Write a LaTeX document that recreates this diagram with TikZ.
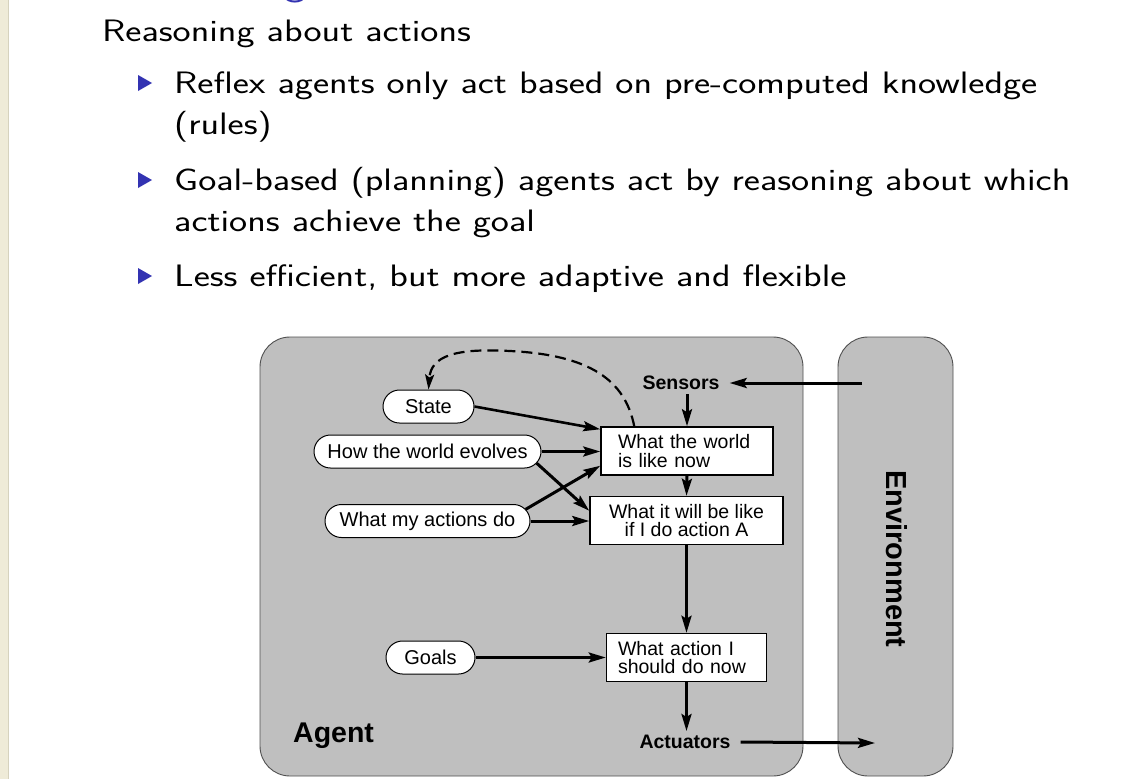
\documentclass[tikz,border=0pt]{standalone}
\usepackage{fontspec}
\newfontfamily\hv{Liberation Sans}
\usetikzlibrary{arrows.meta,calc}
\definecolor{agentgray}{RGB}{191,191,191}
\definecolor{beamerblue}{RGB}{51,51,178}
\definecolor{stripe}{RGB}{239,235,216}
\definecolor{stripeline}{RGB}{214,210,190}
\definecolor{boxedge}{RGB}{80,80,80}
\newcommand{\wide}[1]{\scalebox{1.24}[1]{#1}}
\begin{document}
\begin{tikzpicture}[x=1pt,y=-1pt,
  slidetext/.style={anchor=base west,inner sep=0pt,font=\sffamily\fontsize{31}{36}\selectfont},
  bullettri/.style={fill=beamerblue},
  oval/.style={draw=black,fill=white,line width=1pt,rounded corners=16.5pt,minimum height=33pt,inner sep=0pt,font=\hv\fontsize{20}{22}\selectfont},
  box/.style={draw=black,fill=white,line width=1.5pt,minimum height=48pt,inner ysep=3pt,font=\hv\fontsize{19.5}{18.5}\selectfont},
  lbl/.style={font=\hv\bfseries\fontsize{19.5}{22}\selectfont,inner xsep=10pt,inner ysep=4pt},
  arr/.style={line width=3pt,-{Stealth[length=17pt,width=10pt,inset=3pt]}},
  dasharr/.style={line width=2.2pt,dash pattern=on 11pt off 6pt,-{Stealth[length=15pt,width=9pt,inset=3pt]}}
]
\useasboundingbox (0,0) rectangle (1121,779);
\fill[white] (0,0) rectangle (1121,779);
% left stripe
\fill[stripe] (0,0) rectangle (8,779);
\draw[stripeline,line width=1.2pt] (8.5,0) -- (8.5,779);
% clipped title remnant
\begin{scope}
\clip (0,0) rectangle (1121,779);
\node[anchor=base west,inner sep=0pt,text=beamerblue,font=\sffamily\fontsize{37}{40}\selectfont] (ttl) at (284,-5) {\wide{g}};
\end{scope}
% slide text
\node[slidetext] (h) at (102,41) {\wide{Reasoning about actions}};
\fill[bullettri] (138,75) -- (152,83) -- (138,91) -- cycle;
\node[slidetext] (b1a) at (174,93) {\wide{Reflex agents only act based on pre-computed knowledge}};
\node[slidetext] (b1b) at (174,134) {\wide{(rules)}};
\fill[bullettri] (138,172) -- (152,180) -- (138,188) -- cycle;
\node[slidetext] (b2a) at (174,190) {\wide{Goal-based (planning) agents act by reasoning about which}};
\node[slidetext] (b2b) at (174,231) {\wide{actions achieve the goal}};
\fill[bullettri] (138,268) -- (152,276) -- (138,284) -- cycle;
\node[slidetext] (b3a) at (174,286) {\wide{Less efficient, but more adaptive and flexible}};
% diagram containers
\draw[fill=agentgray,draw=boxedge,line width=0.9pt,rounded corners=30pt] (260,337) rectangle (803,776);
\draw[fill=agentgray,draw=boxedge,line width=0.9pt,rounded corners=30pt] (838,337) rectangle (953,776);
\node[rotate=-90,font=\hv\bfseries\fontsize{29}{30}\selectfont,inner sep=0pt] (env) at (897,559) {Environment};
\node[anchor=base west,inner sep=0pt,font=\hv\bfseries\fontsize{28.5}{30}\selectfont] (agent) at (293,742.5) {Agent};
% nodes
\node[oval,minimum width=91pt] (state) at (428.5,406.5) {State};
\node[oval,minimum width=227pt] (hw) at (427.5,451.5) {How the world evolves};
\node[oval,minimum width=205pt] (mad) at (427.5,521) {What my actions do};
\node[oval,minimum width=89pt] (goals) at (430.5,657.5) {Goals};
\node[box,text width=138pt,inner xsep=17pt,align=left] (w1) at (687,451) {What the world\\is like now};
\node[box,minimum width=193pt,align=center] (w2) at (686.5,520.5) {What it will be like\\if I do action A};
\node[box,text width=137pt,inner xsep=11.5pt,align=left] (w3) at (686.5,657.5) {What action I\\should do now};
\node[lbl] (sens) at (681,383) {Sensors};
\node[lbl] (act) at (685,742) {Actuators};
\coordinate (envin) at (862,383);
\coordinate (envout) at (875,743);
% connectors
\draw[arr] (envin) -- (sens.east);
\draw[arr] (w1.north |- sens.south) -- (w1.north);
\draw[arr] (w1.south) -- (w2.north);
\draw[arr] (w2.south) -- (w3.north);
\draw[arr] (w3.south) -- (w3.south |- act.north);
\draw[arr] (act.east) -- (envout);
\draw[arr,line width=2.6pt] (state.east) -- ($(w1.north west)+(0,3)$);
\draw[arr] (hw.east) -- (hw.east -| w1.west);
\draw[arr] ($(hw.east)+(-4.8,11.7)$) -- ($(w2.north west)+(0,15)$);
\draw[arr] ($(mad.east)+(-4.8,-11.7)$) -- ($(w1.south west)+(0,-10)$);
\draw[arr] (mad.east) -- (mad.east -| w2.west);
\draw[arr] (goals.east) -- (goals.east -| w3.west);
\draw[dasharr] ($(w1.north west)+(34,0)$) .. controls (625,380) and (590,355) .. (510,351) .. controls (455,348) and (431,356) .. (state.north);
\end{tikzpicture}
\end{document}
